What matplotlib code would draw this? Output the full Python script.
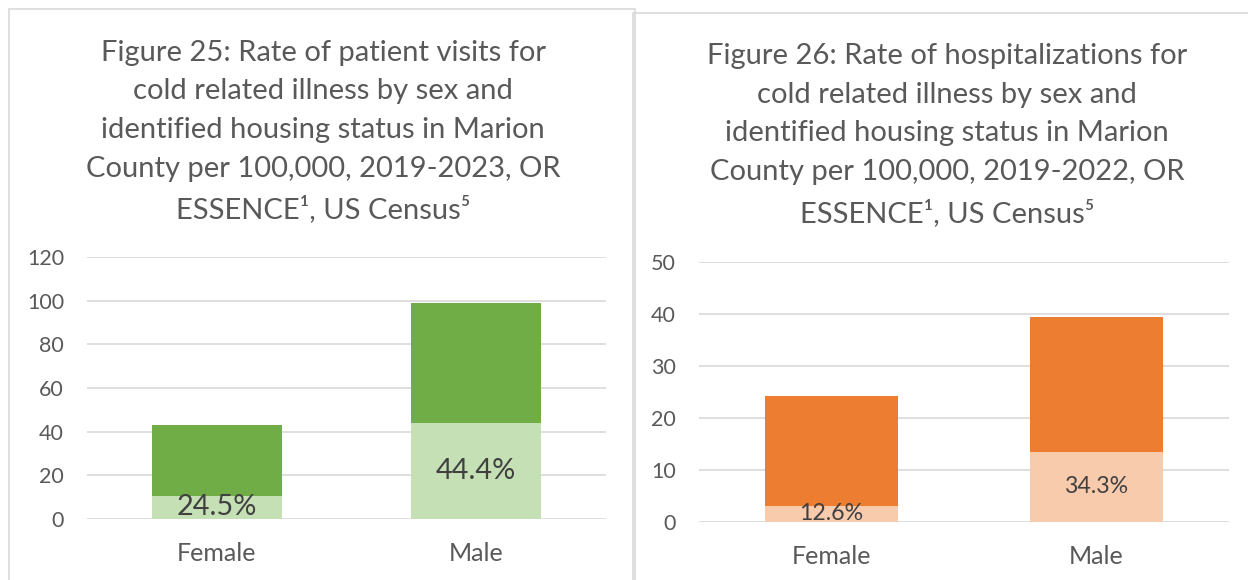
import numpy as np
import matplotlib
matplotlib.use("Agg")
import matplotlib.pyplot as plt
from matplotlib.patches import Rectangle

plt.rcParams['font.family'] = ['Lato', 'DejaVu Sans']

# ------------------------------------------------------------
# data
# ------------------------------------------------------------
categories = ['Female', 'Male']

# Figure 25: patient visits per 100,000
visits_total = [43.0, 98.9]
visits_unhoused = [10.5, 44.0]
visits_pct = ['24.5%', '44.4%']
visits_ticks = [0, 20, 40, 60, 80, 100, 120]

# Figure 26: hospitalizations per 100,000
hosp_total = [24.2, 39.3]
hosp_unhoused = [3.05, 13.5]
hosp_pct = ['12.6%', '34.3%']
hosp_ticks = [0, 10, 20, 30, 40, 50]

title_25 = ("Figure 25: Rate of patient visits for\n"
            "cold related illness by sex and\n"
            "identified housing status in Marion\n"
            "County per 100,000, 2019-2023, OR\n"
            "ESSENCE\u00b9, US Census\u2075")
title_26 = ("Figure 26: Rate of hospitalizations for\n"
            "cold related illness by sex and\n"
            "identified housing status in Marion\n"
            "County per 100,000, 2019-2022, OR\n"
            "ESSENCE\u00b9, US Census\u2075")

TEXT = '#595959'
LABEL = '#404040'
GRID = '#D9D9D9'
W, H = 1248, 580


def draw_panel(ax, total, unhoused, pct, ticks, dark, light, pct_size, xpad):
    x = np.arange(len(categories))
    rest = [t - u for t, u in zip(total, unhoused)]
    ax.bar(x, unhoused, width=0.5, color=light, zorder=3)
    ax.bar(x, rest, width=0.5, bottom=unhoused, color=dark, zorder=3)
    for xi, u, p in zip(x, unhoused, pct):
        ax.text(xi, u / 2, p, ha='center', va='center', fontsize=pct_size,
                color=LABEL, zorder=4)
    ax.set_xlim(-0.5, 1.5)
    ax.set_ylim(ticks[0], ticks[-1])
    ax.set_yticks(ticks)
    ax.set_xticks(x)
    ax.set_xticklabels(categories)
    ax.yaxis.grid(True, color=GRID, linewidth=1.2, zorder=0)
    ax.set_axisbelow(True)
    for s in ax.spines.values():
        s.set_visible(False)
    ax.tick_params(axis='y', length=0, pad=16.5, labelsize=15.5, labelcolor=TEXT)
    ax.tick_params(axis='x', length=0, pad=xpad, labelsize=18, labelcolor=TEXT)


fig = plt.figure(figsize=(W / 100, H / 100), dpi=100)

# panel frames
fig.add_artist(Rectangle((8.5 / W, -0.1), 626 / W, 1.1 - 9 / H, transform=fig.transFigure,
                         fill=False, edgecolor=GRID, linewidth=1.2))
fig.add_artist(Rectangle((632.5 / W, -0.1), 700 / W, 1.1 - 13 / H, transform=fig.transFigure,
                         fill=False, edgecolor=GRID, linewidth=1.2))

ax1 = fig.add_axes([87 / W, 1 - 518.7 / H, 519 / W, 261.4 / H])
draw_panel(ax1, visits_total, visits_unhoused, visits_pct, visits_ticks,
           '#70AD47', '#C5E0B4', 20.8, 16.5)

ax2 = fig.add_axes([699 / W, 1 - 521.7 / H, 530 / W, 260 / H])
draw_panel(ax2, hosp_total, hosp_unhoused, hosp_pct, hosp_ticks,
           '#ED7D31', '#F8CBAD', 16.7, 17)

fig.text(323 / W, 1 - 131.5 / H, title_25, ha='center', va='center', fontsize=21,
         color=TEXT, linespacing=1.6)
fig.text(947 / W, 1 - 135 / H, title_26, ha='center', va='center', fontsize=21,
         color=TEXT, linespacing=1.6)

fig.savefig('out.png', dpi=100)
